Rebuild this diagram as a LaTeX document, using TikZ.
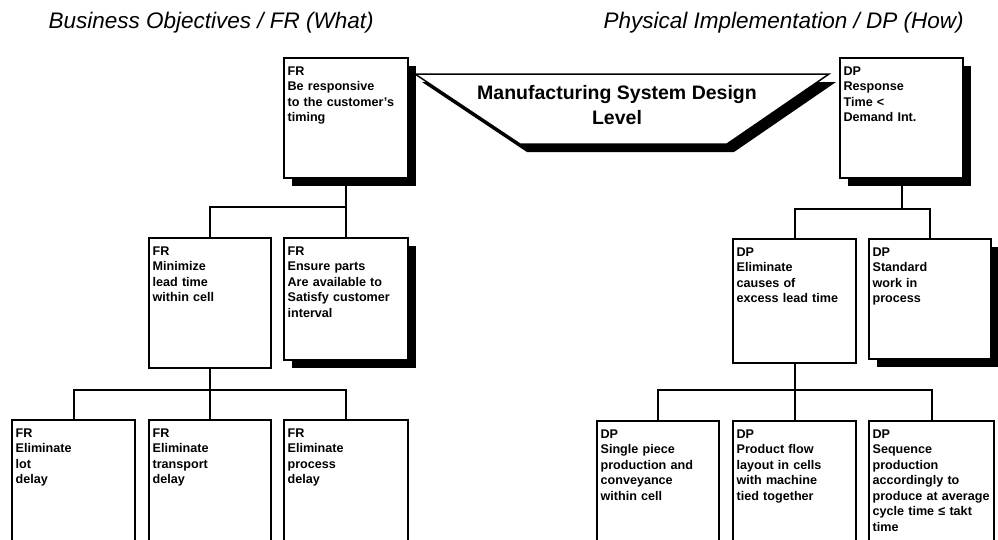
\documentclass[tikz,border=0pt]{standalone}
\usepackage{fontspec}
\setmainfont{Liberation Sans}
\usetikzlibrary{shadows}

\begin{document}
\begin{tikzpicture}[x=1pt,y=-1pt,
  box/.style={draw,line width=2.2pt,fill=white,anchor=north west,align=left,
    inner xsep=3.5pt,inner ysep=7pt,text height=10pt,
    font=\fontsize{12.6}{15.5}\selectfont\bfseries},
  shadebox/.style={box,drop shadow={shadow xshift=8pt,shadow yshift=-8pt,fill=black,opacity=1}},
  link/.style={line width=2pt},
  heading/.style={anchor=base west,font=\fontsize{22.5}{27}\selectfont\itshape}]
  \useasboundingbox (0,0) rectangle (998,539);
  \clip (0,0) rectangle (998,539);

  \node[heading] (whatlbl) at (45,28) {Business Objectives / FR (What)};
  \node[heading] (howlbl) at (600,28) {Physical Implementation / DP (How)};

  % design level banner
  \fill (422,82) -- (836,82) -- (734,152) -- (527,152) -- cycle;
  \draw[line width=1.5pt,fill=white] (415,74) -- (829,74) -- (727,144) -- (520,144) -- cycle;
  \node[align=center,font=\fontsize{19.5}{25}\selectfont\bfseries] (level) at (617,105)
    {Manufacturing System Design\\Level};

  % functional requirements
  \node[shadebox,text width=117pt,text depth=96pt] (fr0) at (283,57)
    {FR\\Be responsive\\to the customer's\\timing};
  \node[box,text width=115pt,text depth=106pt] (fr1) at (148,237)
    {FR\\Minimize\\lead time\\within cell};
  \node[shadebox,text width=117pt,text depth=98pt] (fr2) at (283,237)
    {FR\\Ensure parts\\Are available to\\Satisfy customer\\interval};
  \node[box,text width=116pt,text depth=110pt] (fr11) at (11,419)
    {FR\\Eliminate\\lot\\delay};
  \node[box,text width=115pt,text depth=110pt] (fr12) at (148,419)
    {FR\\Eliminate\\transport\\delay};
  \node[box,text width=117pt,text depth=110pt] (fr13) at (283,419)
    {FR\\Eliminate\\process\\delay};

  % design parameters
  \node[shadebox,text width=116pt,text depth=96pt] (dp0) at (839,57)
    {DP\\Response\\Time <\\Demand Int.};
  \node[box,text width=116pt,text depth=100pt] (dp1) at (732,238)
    {DP\\Eliminate\\causes of\\excess lead time};
  \node[shadebox,text width=115pt,text depth=96pt] (dp2) at (868,238)
    {DP\\Standard\\work in\\process};
  \node[box,text width=115pt,text depth=110pt] (dp11) at (596,420)
    {DP\\Single piece\\production and\\conveyance\\within cell};
  \node[box,text width=116pt,text depth=110pt] (dp12) at (732,420)
    {DP\\Product flow\\layout in cells\\with machine\\tied together};
  \node[box,text width=118pt,text depth=110pt] (dp13) at (868,420)
    {DP\\Sequence\\production\\accordingly to\\produce at average\\cycle time ≤ takt\\time};

  % tree links
  \draw[link] (fr0.south) -- (fr2.north);
  \draw[link] (fr1.north) |- (fr2.north |- 0,207);
  \draw[link] (fr1.south) -- (fr12.north);
  \draw[link] (fr11.north) |- (fr13.north |- 0,390) -- (fr13.north);
  \draw[link] (dp0.south) -- (dp0.south |- 0,209);
  \draw[link] (dp1.north) |- (dp2.north |- 0,209) -- (dp2.north);
  \draw[link] (dp1.south) -- (dp12.north);
  \draw[link] (dp11.north) |- (dp13.north |- 0,390) -- (dp13.north);
\end{tikzpicture}
\end{document}
